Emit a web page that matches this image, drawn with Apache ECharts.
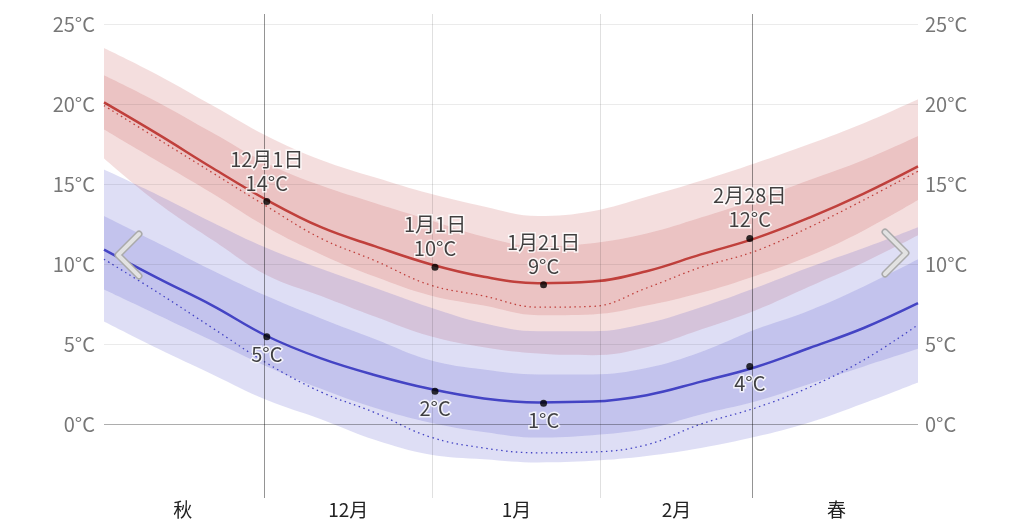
<!DOCTYPE html>
<html>
<head>
<meta charset="utf-8">
<script src="https://cdn.jsdelivr.net/npm/echarts@6/dist/echarts.min.js"></script>
<style>
html, body { margin: 0; padding: 0; background: #fff; }
#chart { width: 1024px; height: 526px; }
</style>
</head>
<body>
<div id="chart"></div>
<script>
// day position counted from Nov 1 (0.5 = middle of Nov 1, 150.5 = middle of Mar 31)
const days = [0.5, 10.5, 20.5, 30.5, 40.5, 50.5, 60.5, 70.5, 80.5, 90.5, 100.5, 110.5, 120.5, 130.5, 140.5, 150.5];

// daily high: 10th / 25th percentile, average, 75th / 90th percentile, perceived
const high90 = [23.5, 21.8, 19.9, 18.0, 16.5, 15.4, 14.4, 13.6, 13.0, 13.3, 14.2, 15.2, 16.3, 17.5, 18.8, 20.3];
const high75 = [21.8, 20.1, 18.2, 16.3, 14.9, 13.8, 12.75, 11.7, 11.1, 11.3, 11.9, 12.9, 14.0, 15.25, 16.5, 18.0];
const highAvg = [20.1, 18.1, 16.0, 14.0, 12.3, 11.1, 10.0, 9.2, 8.8, 8.9, 9.55, 10.6, 11.6, 12.9, 14.4, 16.1];
const highFeel = [19.9, 17.8, 15.7, 13.6, 11.6, 10.2, 8.7, 8.0, 7.3, 7.35, 8.5, 9.8, 10.8, 12.3, 14.0, 15.8];
const high25 = [18.4, 16.4, 14.4, 12.3, 10.6, 9.2, 8.05, 7.4, 6.8, 6.85, 7.4, 8.2, 9.25, 10.5, 12.1, 14.0];
const high10 = [16.6, 13.8, 11.5, 9.3, 8.0, 6.7, 5.5, 4.8, 4.4, 4.3, 4.8, 5.9, 7.1, 8.6, 10.1, 11.8];

// daily low
const low90 = [15.9, 14.3, 12.6, 11.0, 9.7, 8.5, 7.3, 6.3, 5.8, 5.8, 6.3, 7.3, 8.5, 9.8, 11.0, 12.3];
const low75 = [13.0, 11.3, 9.6, 8.0, 6.6, 5.3, 4.0, 3.4, 3.1, 3.1, 3.5, 4.5, 5.9, 7.1, 8.6, 10.3];
const lowAvg = [10.9, 9.1, 7.4, 5.5, 4.1, 3.05, 2.2, 1.6, 1.35, 1.4, 1.8, 2.65, 3.55, 4.75, 6.0, 7.55];
const lowFeel = [10.3, 8.2, 6.0, 3.8, 2.0, 0.7, -0.8, -1.5, -1.8, -1.75, -1.3, 0.0, 1.0, 2.3, 4.0, 6.2];
const low25 = [8.4, 6.8, 5.2, 3.6, 2.2, 1.0, 0.1, -0.5, -0.85, -0.7, -0.3, 0.6, 1.4, 2.5, 3.6, 4.7];
const low10 = [6.4, 4.7, 3.1, 1.5, 0.3, -1.0, -1.9, -2.2, -2.4, -2.3, -2.0, -1.5, -0.8, 0.1, 1.3, 2.6];

// annotated days
const markDays = [30.5, 61.5, 81.5, 119.5];
const markDates = ['12月1日', '1月1日', '1月21日', '2月28日'];
const markHigh = [13.9, 9.8, 8.7, 11.6];
const markLow = [5.45, 2.05, 1.3, 3.6];

// axes
const tempTicks = [0, 5, 10, 15, 20, 25];
const monthTicks = [15, 45.5, 76.5, 106, 135.5];
const monthNames = ['秋', '12月', '1月', '2月', '春'];
const seasonLines = [30, 120];
const monthLines = [61, 92];

const FONT = '"Noto Sans CJK JP", "Noto Sans", sans-serif';
const RED = '#c0403c';
const BLUE = '#4444c4';
const SMOOTH = 0.4;

const chart = echarts.init(document.getElementById('chart'));

// stacked band on the category axis: invisible lower edge + filled difference
function band(lo, hi, name, color) {
    return [
        {
            type: 'line', stack: name, stackStrategy: 'all', data: lo,
            smooth: SMOOTH, symbol: 'none', lineStyle: { width: 0 }, silent: true, z: 1
        },
        {
            type: 'line', stack: name, stackStrategy: 'all',
            data: hi.map((v, i) => +(v - lo[i]).toFixed(2)),
            smooth: SMOOTH, symbol: 'none', lineStyle: { width: 0 },
            areaStyle: { color: color, opacity: 1 }, silent: true, z: 1
        }
    ];
}

function line(ys, color, width, dash) {
    return {
        type: 'line', data: ys, smooth: SMOOTH, symbol: 'none', silent: true, z: 4,
        lineStyle: { color: color, width: width, type: dash || 'solid' }
    };
}

const labelBase = {
    show: true, color: '#111', fontSize: 20, lineHeight: 24, fontFamily: FONT,
    textBorderColor: '#fff', textBorderWidth: 3
};

const option = {
    animation: false,
    grid: { left: 104, right: 106, top: 14, bottom: 28 },
    xAxis: [
        {
            type: 'category', data: days.map(String), boundaryGap: false,
            axisLine: { show: false }, axisTick: { show: false },
            axisLabel: { show: false }, splitLine: { show: false }
        },
        {
            type: 'value', min: 0.5, max: 150.5, position: 'bottom',
            axisLine: { show: false }, axisTick: { show: false }, splitLine: { show: false },
            axisLabel: {
                customValues: monthTicks,
                formatter: v => monthNames[monthTicks.indexOf(v)] || '',
                color: '#222', fontSize: 19, fontFamily: FONT, margin: 2
            }
        }
    ],
    yAxis: [0, 1].map(i => ({
        type: 'value', min: -4.625, max: 25.625, position: i ? 'right' : 'left',
        axisLine: { show: false }, axisTick: { show: false }, splitLine: { show: false },
        axisLabel: {
            customValues: tempTicks, formatter: v => v + '°C',
            color: '#777', fontSize: 20, fontFamily: FONT, margin: i ? 7 : 9
        }
    })),
    graphic: [
        { type: 'polyline', shape: { points: [[139, 234], [118, 255], [139, 276]] },
          style: { stroke: '#aaa', lineWidth: 7, fill: null, lineCap: 'round', lineJoin: 'round' }, z: 20 },
        { type: 'polyline', shape: { points: [[139, 234], [118, 255], [139, 276]] },
          style: { stroke: '#e2e2e2', lineWidth: 4, fill: null, lineCap: 'round', lineJoin: 'round' }, z: 21 },
        { type: 'polyline', shape: { points: [[885, 232], [906, 253], [885, 274]] },
          style: { stroke: '#aaa', lineWidth: 7, fill: null, lineCap: 'round', lineJoin: 'round' }, z: 20 },
        { type: 'polyline', shape: { points: [[885, 232], [906, 253], [885, 274]] },
          style: { stroke: '#e2e2e2', lineWidth: 4, fill: null, lineCap: 'round', lineJoin: 'round' }, z: 21 }
    ],
    series: [
        ...band(high10, high90, 'h1', 'rgba(192,57,57,0.17)'),
        ...band(high25, high75, 'h2', 'rgba(192,57,57,0.17)'),
        ...band(low10, low90, 'l1', 'rgba(70,70,200,0.18)'),
        ...band(low25, low75, 'l2', 'rgba(70,70,200,0.18)'),
        // grid lines drawn over the bands
        {
            type: 'scatter', xAxisIndex: 1, data: [], silent: true, z: 3,
            markLine: {
                silent: true, symbol: 'none', label: { show: false }, animation: false,
                data: [
                    ...tempTicks.map(t => ({
                        yAxis: t,
                        lineStyle: { color: t === 0 ? 'rgba(0,0,0,0.32)' : 'rgba(0,0,0,0.08)', width: 1, type: 'solid' }
                    })),
                    ...seasonLines.map(d => ({
                        xAxis: d, lineStyle: { color: 'rgba(0,0,0,0.42)', width: 1, type: 'solid' }
                    })),
                    ...monthLines.map(d => ({
                        xAxis: d, lineStyle: { color: 'rgba(0,0,0,0.12)', width: 1, type: 'solid' }
                    }))
                ]
            }
        },
        line(highFeel, RED, 1.3, [1.5, 3.5]),
        line(lowFeel, BLUE, 1.3, [1.5, 3.5]),
        line(highAvg, RED, 2.5),
        line(lowAvg, BLUE, 2.5),
        {
            type: 'scatter', xAxisIndex: 1, z: 10, symbolSize: 7, itemStyle: { color: '#000' },
            data: markDays.map((d, i) => ({
                value: [d, markHigh[i]],
                label: { formatter: markDates[i] + '\n' + Math.round(markHigh[i]) + '°C' }
            })),
            label: Object.assign({ position: 'top', distance: 3 }, labelBase)
        },
        {
            type: 'scatter', xAxisIndex: 1, z: 10, symbolSize: 7, itemStyle: { color: '#000' },
            data: markDays.map((d, i) => ({
                value: [d, markLow[i]],
                label: { formatter: Math.round(markLow[i]) + '°C' }
            })),
            label: Object.assign({ position: 'bottom', distance: 2 }, labelBase)
        }
    ]
};

chart.setOption(option);

window.addEventListener('resize', function () {
    chart.resize();
});
</script>
</body>
</html>
